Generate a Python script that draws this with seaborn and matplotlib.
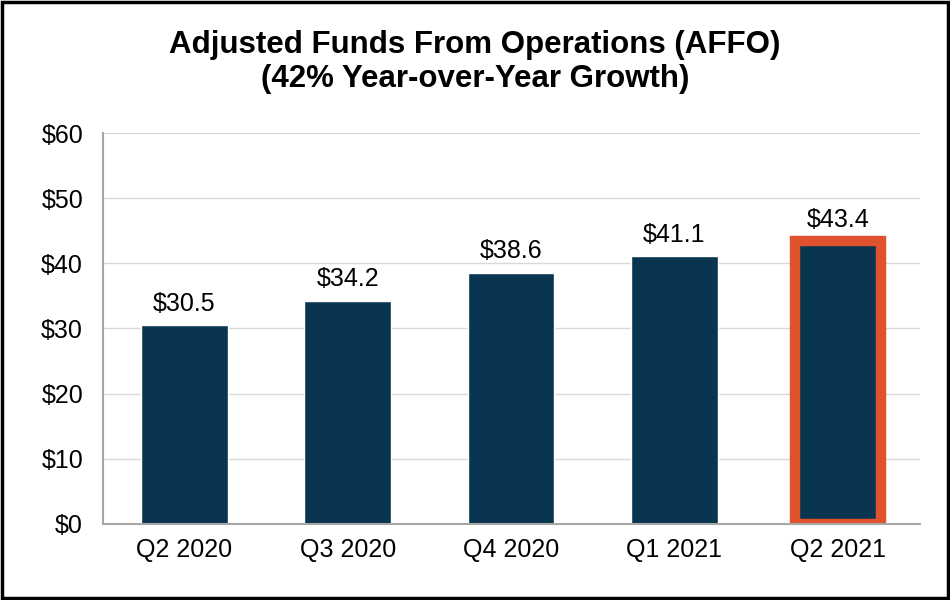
import matplotlib
matplotlib.use("Agg")
import matplotlib.pyplot as plt
import seaborn as sns
import pandas as pd
from matplotlib.patches import Rectangle

quarters = ["Q2 2020", "Q3 2020", "Q4 2020", "Q1 2021", "Q2 2021"]
affo = [30.5, 34.2, 38.6, 41.1, 43.4]
value_labels = ["$30.5", "$34.2", "$38.6", "$41.1", "$43.4"]
ytick_vals = [0, 10, 20, 30, 40, 50, 60]
ytick_labels = ["$0", "$10", "$20", "$30", "$40", "$50", "$60"]
title = "Adjusted Funds From Operations (AFFO)\n(42% Year-over-Year Growth)"

sns.set_theme(style="white")
plt.rcParams['font.family'] = ['Liberation Sans', 'DejaVu Sans']

navy = "#0A3550"
orange = "#E0522E"

df = pd.DataFrame({"quarter": quarters, "affo": affo})

fig = plt.figure(figsize=(9.5, 6), dpi=100)
ax = fig.add_axes([0.108, 0.127, 0.86, 0.651])

sns.barplot(data=df, x="quarter", y="affo", color=navy, saturation=1,
            width=0.53, ax=ax)

# highlight last bar
last = ax.patches[-1]
last.set_edgecolor(orange)
last.set_linewidth(7.5)
last.set_joinstyle("miter")

ax.bar_label(ax.containers[0], labels=value_labels, padding=7, fontsize=18, color="black")

ax.set_ylim(0, 60)
ax.set_xlim(-0.5, 4.5)
ax.set_yticks(ytick_vals)
ax.set_yticklabels(ytick_labels, fontsize=18)
ax.tick_params(axis="x", labelsize=18, pad=10, length=0, labelcolor="black")
ax.tick_params(axis="y", pad=14, length=0, labelcolor="black")
ax.set_xlabel("")
ax.set_ylabel("")
ax.yaxis.grid(True, color="#D9D9D9", linewidth=1)
ax.set_axisbelow(True)
for s in ["top", "right"]:
    ax.spines[s].set_visible(False)
ax.spines["left"].set_color("#A6A6A6")
ax.spines["bottom"].set_color("#A6A6A6")
ax.spines["left"].set_linewidth(1.5)
ax.spines["bottom"].set_linewidth(1.5)

fig.text(0.5, 0.897, title, ha="center", va="center", fontsize=22.5,
         fontweight="bold", linespacing=1.15, color="black")

fig.patches.append(Rectangle((0.002, 0.003), 0.996, 0.994, transform=fig.transFigure,
                             fill=False, edgecolor="black", linewidth=2.5))

fig.savefig("out.png", dpi=100)
